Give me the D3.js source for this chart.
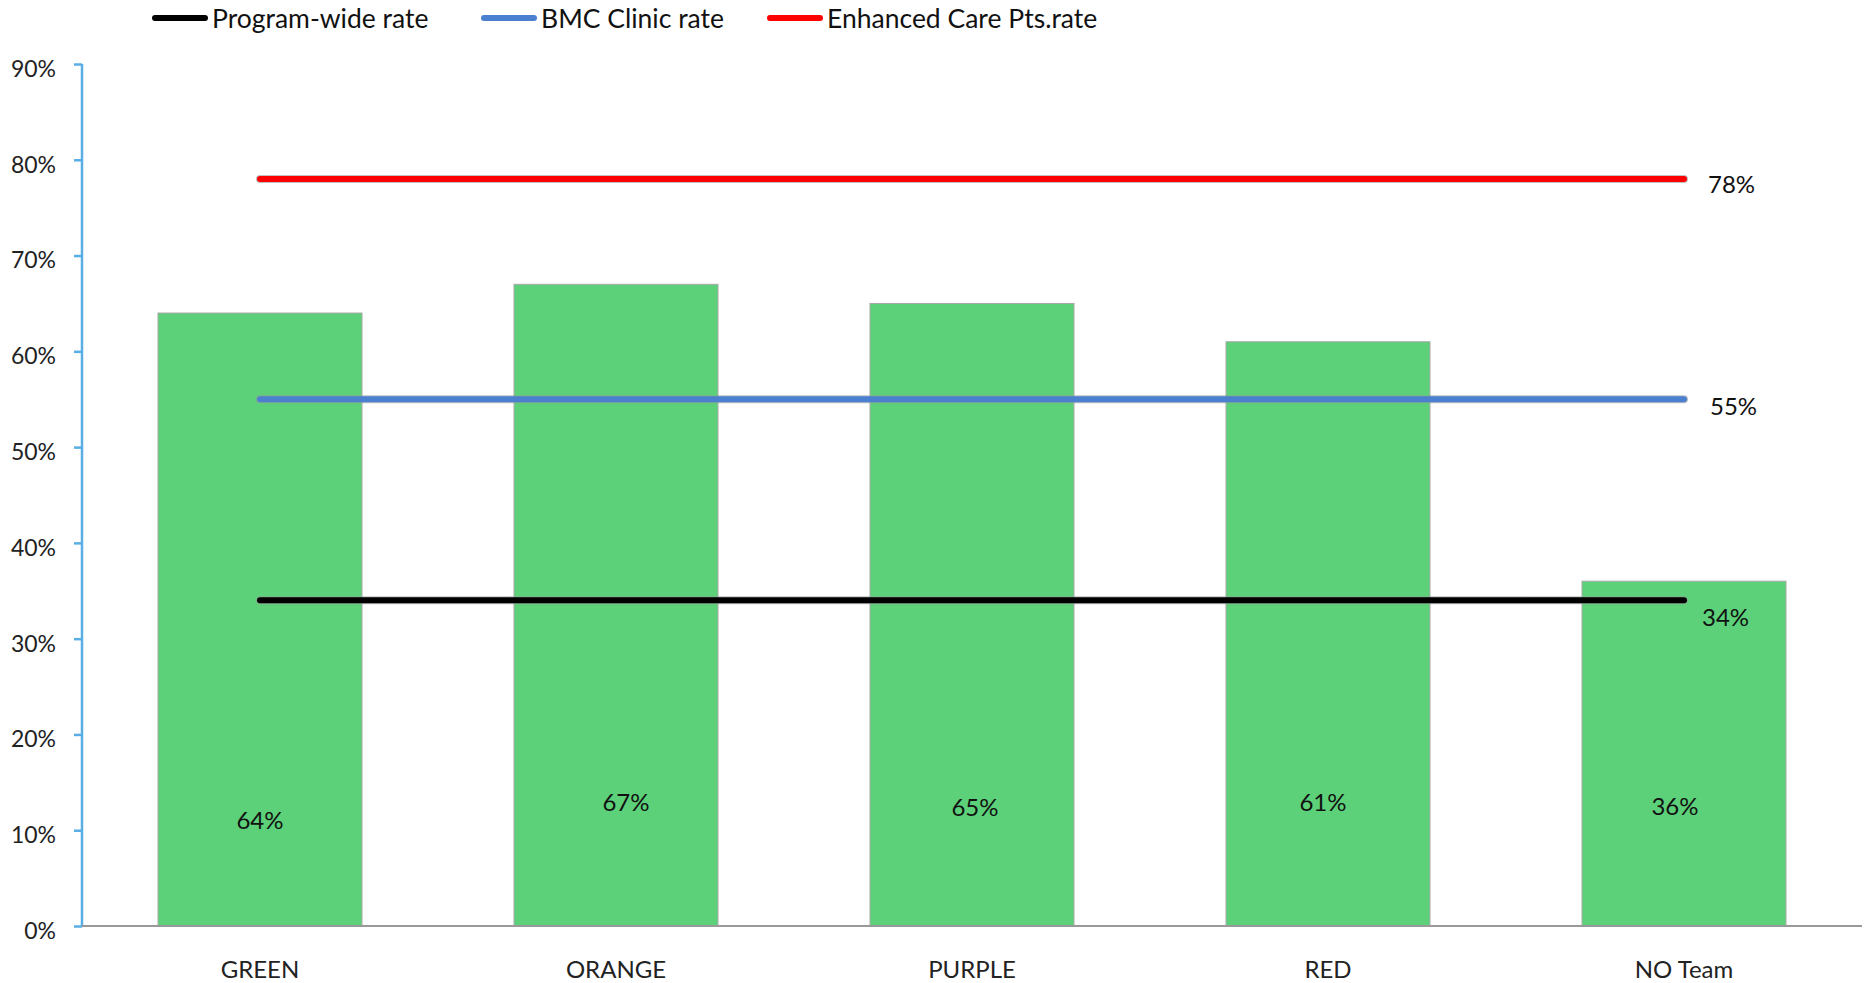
<!DOCTYPE html>
<html>
<head>
<meta charset="utf-8">
<script src="https://cdn.jsdelivr.net/npm/d3@7"></script>
<style>
  html, body { margin: 0; padding: 0; background: #fff; }
  svg { display: block; font-family: Lato, "Open Sans", sans-serif; }
</style>
</head>
<body>
<svg id="chart" width="1864" height="983"></svg>
<script>
// Teams and their rates
const categories = ["GREEN", "ORANGE", "PURPLE", "RED", "NO Team"];
const teamRates = [64, 67, 65, 61, 36];

// Reference rates drawn as horizontal lines
const refNames = ["Program-wide rate", "BMC Clinic rate", "Enhanced Care Pts.rate"];
const refRates = [34, 55, 78];
const refColors = ["#000000", "#4a80cf", "#ff0000"];

const yTicks = [0, 10, 20, 30, 40, 50, 60, 70, 80, 90];

const W = 1864, H = 983;
const margin = { top: 64, right: 2, bottom: 57, left: 82 };

const svg = d3.select("#chart");

const x = d3.scaleBand()
  .domain(categories)
  .range([margin.left, W - margin.right])
  .paddingInner(0.427)
  .paddingOuter(0.2135);

const y = d3.scaleLinear()
  .domain([0, 90])
  .range([H - margin.bottom, margin.top]);

// Bars
svg.append("g")
  .selectAll("rect")
  .data(categories)
  .join("rect")
  .attr("x", d => x(d))
  .attr("y", (d, i) => y(teamRates[i]))
  .attr("width", x.bandwidth())
  .attr("height", (d, i) => y(0) - y(teamRates[i]))
  .attr("fill", "#5cd17a")
  .attr("stroke", "#a8a8a8")
  .attr("stroke-width", 1);

// Bar value labels near the base (small hand-placed nudges)
const barLabelDx = [0, 10, 3, -5, -9];
const barLabelDy = [-97, -115, -110, -115, -111];
svg.append("g")
  .selectAll("text")
  .data(categories)
  .join("text")
  .attr("x", (d, i) => x(d) + x.bandwidth() / 2 + barLabelDx[i])
  .attr("y", (d, i) => y(0) + barLabelDy[i])
  .attr("text-anchor", "middle")
  .attr("font-size", 24)
  .attr("fill", "#111")
  .text((d, i) => teamRates[i] + "%");

// Y axis
const yAxis = d3.axisLeft(y)
  .tickValues(yTicks)
  .tickFormat(d => d + "%")
  .tickSize(8)
  .tickPadding(18);

const gy = svg.append("g")
  .attr("transform", `translate(${margin.left},0)`)
  .call(yAxis);
gy.select(".domain").attr("stroke", "#5aaee6").attr("stroke-width", 2.5)
  .attr("d", `M0,${y(90)}V${y(0)}`);
gy.selectAll(".tick line").attr("stroke", "#5aaee6").attr("stroke-width", 2.5);
gy.selectAll(".tick text")
  .attr("font-size", 23)
  .attr("dy", "0.54em")
  .attr("fill", "#222")
  .attr("font-family", "Lato, sans-serif");

// X axis baseline and category labels
svg.append("line")
  .attr("x1", margin.left).attr("x2", W - margin.right)
  .attr("y1", y(0)).attr("y2", y(0))
  .attr("stroke", "#999").attr("stroke-width", 2);

svg.append("g")
  .selectAll("text")
  .data(categories)
  .join("text")
  .attr("x", d => x(d) + x.bandwidth() / 2)
  .attr("y", y(0) + 52)
  .attr("text-anchor", "middle")
  .attr("font-size", 24)
  .attr("fill", "#222")
  .text(d => d);

// Reference lines spanning first to last category centres
const xStart = x(categories[0]) + x.bandwidth() / 2;
const xEnd = x(categories[categories.length - 1]) + x.bandwidth() / 2;

const refG = svg.append("g");
refRates.forEach((v, i) => {
  refG.append("line")
    .attr("x1", xStart).attr("x2", xEnd)
    .attr("y1", y(v)).attr("y2", y(v))
    .attr("stroke", "#9a9a9a")
    .attr("stroke-width", 8)
    .attr("stroke-linecap", "round")
    .attr("opacity", 0.6);
  refG.append("line")
    .attr("x1", xStart).attr("x2", xEnd)
    .attr("y1", y(v)).attr("y2", y(v))
    .attr("stroke", refColors[i])
    .attr("stroke-width", 6)
    .attr("stroke-linecap", "round");
});

// Reference value labels at the right end of each line
const refLabelDx = [18, 26, 24];
const refLabelDy = [26, 16, 14];
refG.selectAll("text")
  .data(refRates)
  .join("text")
  .attr("x", (d, i) => xEnd + refLabelDx[i])
  .attr("y", (d, i) => y(d) + refLabelDy[i])
  .attr("font-size", 24)
  .attr("fill", "#111")
  .text(d => d + "%");

// Legend
const legendX = [152, 481, 767];
const legend = svg.append("g");
refNames.forEach((name, i) => {
  legend.append("line")
    .attr("x1", legendX[i] + 3).attr("x2", legendX[i] + 53)
    .attr("y1", 18).attr("y2", 18)
    .attr("stroke", refColors[i])
    .attr("stroke-width", 6)
    .attr("stroke-linecap", "round");
  legend.append("text")
    .attr("x", legendX[i] + 60)
    .attr("y", 28)
    .attr("font-size", 26.5)
    .attr("fill", "#111")
    .text(name);
});
</script>
</body>
</html>
